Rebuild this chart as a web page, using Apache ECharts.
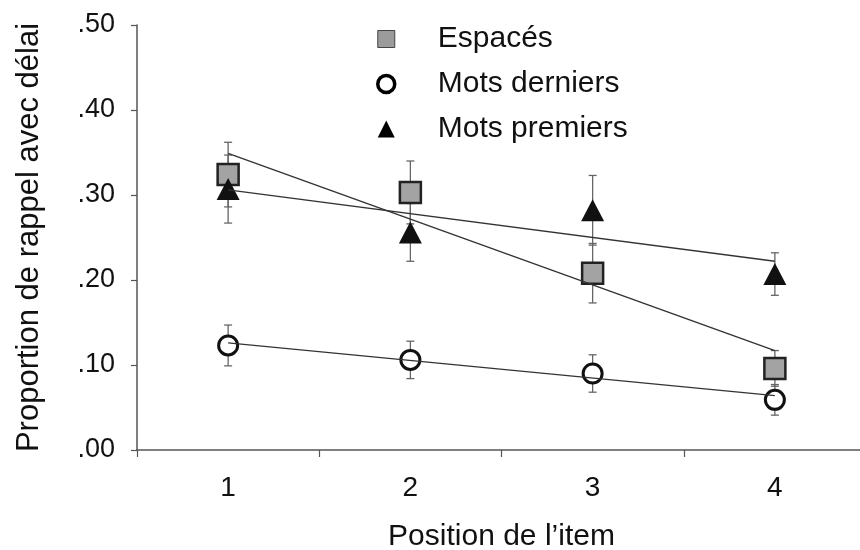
<!DOCTYPE html>
<html>
<head>
<meta charset="utf-8">
<script src="https://cdn.jsdelivr.net/npm/echarts@6/dist/echarts.min.js"></script>
<style>
	html, body { margin: 0; padding: 0; background: #fff; }
	#chart { width: 860px; height: 550px; }
</style>
</head>
<body>
<div id="chart"></div>
<script>
var positions = ['1', '2', '3', '4'] // position de l'item
var yTicks = [0, 0.1, 0.2, 0.3, 0.4, 0.5]

// moyennes
var espaces = [0.324, 0.303, 0.208, 0.096]
var espacesErr = [0.038, 0.037, 0.035, 0.021]
var derniers = [0.123, 0.106, 0.090, 0.059]
var derniersErr = [0.024, 0.022, 0.022, 0.018]
var premiers = [0.307, 0.256, 0.282, 0.207]
var premiersErr = [0.040, 0.034, 0.041, 0.025]

// droites de tendance (valeur en 1 et en 4)
var espacesFit = [0.349, 0.117]
var derniersFit = [0.126, 0.064]
var premiersFit = [0.306, 0.222]

var FONT = 'Liberation Sans, Arial, Helvetica, sans-serif'

function errData(vals, errs) {
	return vals.map(function(v, i) {
		return [i, v - errs[i], v + errs[i]]
	})
}

function fitData(fit) {
	return [[positions[0], fit[0]], [positions[positions.length - 1], fit[1]]]
}

function renderErr(params, api) {
	var lo = api.coord([api.value(0), api.value(1)])
	var hi = api.coord([api.value(0), api.value(2)])
	var w = 4
	var st = { stroke: '#666', lineWidth: 1.3 }
	return {
		type: 'group',
		children: [
			{ type: 'line', shape: { x1: lo[0], y1: lo[1], x2: hi[0], y2: hi[1] }, style: st },
			{ type: 'line', shape: { x1: lo[0] - w, y1: lo[1], x2: lo[0] + w, y2: lo[1] }, style: st },
			{ type: 'line', shape: { x1: hi[0] - w, y1: hi[1], x2: hi[0] + w, y2: hi[1] }, style: st }
		]
	}
}

function errSeries(vals, errs) {
	return {
		type: 'custom',
		renderItem: renderErr,
		encode: { x: 0, y: [1, 2] },
		data: errData(vals, errs),
		z: 1,
		silent: true
	}
}

function fitSeries(name, fit) {
	return {
		name: name,
		type: 'line',
		data: fitData(fit),
		symbol: 'none',
		lineStyle: { color: '#333', width: 1.4 },
		z: 5,
		silent: true
	}
}

var option = {
	backgroundColor: '#fff',
	animation: false,
	textStyle: { fontFamily: FONT },
	grid: {
		left: 137,
		top: 25,
		width: 729,
		bottom: 100,
		containLabel: false,
		outerBoundsMode: 'none'
	},
	legend: {
		orient: 'vertical',
		left: 371,
		top: 19,
		itemGap: 15,
		itemWidth: 17,
		itemHeight: 17,
		selectedMode: false,
		textStyle: {
			color: '#111',
			fontSize: 30,
			fontFamily: FONT,
			padding: [0, 0, 0, 38]
		},
		data: [
			{ name: 'Espacés', icon: 'rect', itemStyle: { color: '#9b9b9b', borderColor: '#444', borderWidth: 1 } },
			{ name: 'Mots derniers', icon: 'circle', itemStyle: { color: '#fff', borderColor: '#000', borderWidth: 3.5 } },
			{ name: 'Mots premiers', icon: 'triangle', itemStyle: { color: '#000', borderWidth: 0 } }
		]
	},
	xAxis: {
		type: 'category',
		data: positions,
		boundaryGap: true,
		name: 'Position de l\u2019item',
		nameLocation: 'middle',
		nameGap: 72,
		nameTextStyle: { color: '#111', fontSize: 30, fontFamily: FONT },
		axisLine: { lineStyle: { color: '#555', width: 1.5 } },
		axisTick: { show: true, inside: false, length: 7, lineStyle: { color: '#555', width: 1.2 } },
		axisLabel: { color: '#111', fontSize: 28, margin: 24, fontFamily: FONT },
		splitLine: { show: false }
	},
	yAxis: {
		type: 'value',
		min: yTicks[0],
		max: yTicks[yTicks.length - 1],
		interval: 0.1,
		name: 'Proportion de rappel avec délai',
		nameLocation: 'middle',
		nameGap: 92,
		nameRotate: 90,
		nameTextStyle: { color: '#111', fontSize: 31, fontFamily: FONT },
		axisLine: { show: true, lineStyle: { color: '#555', width: 1.5 } },
		axisTick: { show: true, inside: false, length: 6, lineStyle: { color: '#555', width: 1.2 } },
		axisLabel: {
			color: '#111',
			fontSize: 27,
			margin: 22,
			fontFamily: FONT,
			formatter: function(v) {
				return v.toFixed(2).replace(/^0/, '')
			}
		},
		splitLine: { show: false }
	},
	series: [
		errSeries(espaces, espacesErr),
		errSeries(derniers, derniersErr),
		errSeries(premiers, premiersErr),
		{
			name: 'Espacés',
			type: 'scatter',
			data: espaces,
			symbol: 'rect',
			symbolSize: 21,
			itemStyle: { color: '#a3a3a3', borderColor: '#222', borderWidth: 2.5, opacity: 1 },
			z: 3
		},
		{
			name: 'Mots derniers',
			type: 'scatter',
			data: derniers,
			symbol: 'circle',
			symbolSize: 19,
			itemStyle: { color: '#fff', borderColor: '#111', borderWidth: 3, opacity: 1 },
			z: 3
		},
		{
			name: 'Mots premiers',
			type: 'scatter',
			data: premiers,
			symbol: 'triangle',
			symbolSize: [23, 22],
			itemStyle: { color: '#111', opacity: 1 },
			z: 3
		},
		fitSeries('fitEspaces', espacesFit),
		fitSeries('fitDerniers', derniersFit),
		fitSeries('fitPremiers', premiersFit)
	]
}

var myChart = echarts.init(document.getElementById('chart'))
myChart.setOption(option)
</script>
</body>
</html>
